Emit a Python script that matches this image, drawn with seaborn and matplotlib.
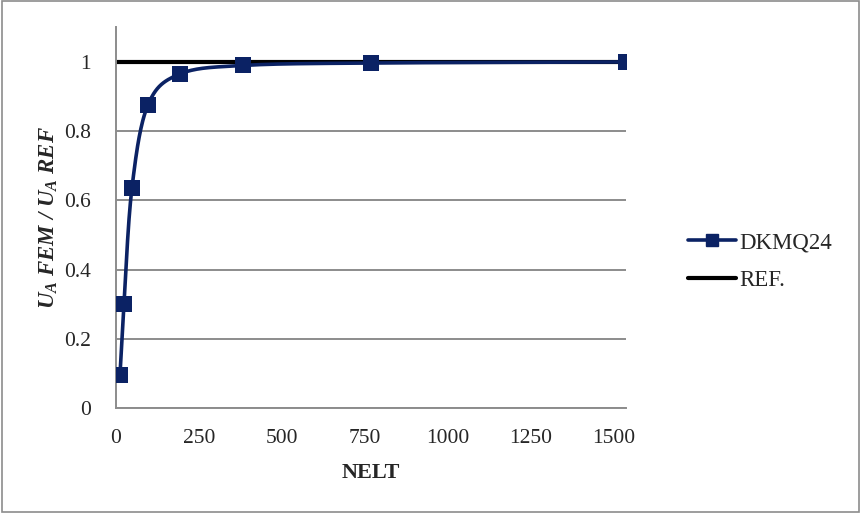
import numpy as np
import pandas as pd
import matplotlib
matplotlib.use("Agg")
import matplotlib.pyplot as plt
import seaborn as sns
from matplotlib.lines import Line2D
from matplotlib.patches import Rectangle

# data
nelt = [12, 24, 48, 96, 192, 384, 768, 1536]
dkmq24 = [0.095, 0.30, 0.635, 0.875, 0.965, 0.99, 0.997, 1.0]
ref_x = [0, 1536]
ref_y = [1.0, 1.0]

sns.set_style("white")
plt.rcParams['font.family'] = ['Liberation Serif', 'DejaVu Serif']
plt.rcParams['mathtext.fontset'] = 'custom'
plt.rcParams['mathtext.it'] = 'Liberation Serif:italic:bold'
plt.rcParams['mathtext.rm'] = 'Liberation Serif:bold'

navy = "#0b2264"


# excel-like smoothed line (catmull-rom through the points)
def smooth(x, y, n=30):
    x = np.asarray(x, float)
    y = np.asarray(y, float)
    px = np.concatenate([[2 * x[0] - x[1]], x, [2 * x[-1] - x[-2]]])
    py = np.concatenate([[2 * y[0] - y[1]], y, [2 * y[-1] - y[-2]]])
    xs, ys = [], []
    t = np.linspace(0, 1, n)
    for i in range(1, len(px) - 2):
        for p, out in ((px, xs), (py, ys)):
            p0, p1, p2, p3 = p[i - 1], p[i], p[i + 1], p[i + 2]
            out.extend(0.5 * ((2 * p1) + (-p0 + p2) * t
                              + (2 * p0 - 5 * p1 + 4 * p2 - p3) * t ** 2
                              + (-p0 + 3 * p1 - 3 * p2 + p3) * t ** 3))
    return xs, ys


fig = plt.figure(figsize=(8.61, 5.13), dpi=100)
ax = fig.add_axes([0.1347, 0.2047, 0.5923, 0.742])

ax.plot(ref_x, ref_y, color="black", lw=3, solid_capstyle="butt", zorder=2)
sx, sy = smooth(nelt, dkmq24)
ax.plot(sx, sy, color=navy, lw=2.6, zorder=3)
df = pd.DataFrame({"NELT": nelt, "ratio": dkmq24})
sns.scatterplot(data=df, x="NELT", y="ratio", marker="s", s=120, color=navy,
                edgecolor=navy, linewidth=0, ax=ax, zorder=4)

ax.set_xlim(0, 1536)
ax.set_ylim(0, 1.1)
ax.set_xticks([0, 250, 500, 750, 1000, 1250, 1500])
ax.set_yticks([0, 0.2, 0.4, 0.6, 0.8, 1])
ax.set_yticklabels(["0", "0.2", "0.4", "0.6", "0.8", "1"])
ax.yaxis.grid(True, color="#8c8c8c", lw=1.4)
ax.set_axisbelow(True)
for s in ["top", "right"]:
    ax.spines[s].set_visible(False)
for s in ["left", "bottom"]:
    ax.spines[s].set_color("#8c8c8c")
    ax.spines[s].set_linewidth(1.4)
ax.tick_params(axis="x", length=0, labelsize=15.5, pad=15)
ax.tick_params(axis="y", length=0, labelsize=15.5, pad=18)

ax.set_xlabel("NELT", fontsize=16, fontweight="bold", labelpad=11)
ax.set_ylabel(r"$U_A$ FEM / $U_A$ REF", fontsize=16.5, fontweight="bold",
              style="italic", labelpad=3)

handles = [Line2D([], [], color=navy, lw=2.6, marker="s", markersize=9),
           Line2D([], [], color="black", lw=3)]
fig.legend(handles, ["DKMQ24", "REF."], loc="center left",
           bbox_to_anchor=(0.775, 0.49), frameon=False, fontsize=16.5,
           handlelength=2.1, handletextpad=0.15, labelspacing=0.75)

fig.patches.append(Rectangle((0.002, 0.002), 0.996, 0.996, transform=fig.transFigure,
                             fill=False, edgecolor="#8c8c8c", lw=1.2))

fig.savefig("out.png", dpi=100)
